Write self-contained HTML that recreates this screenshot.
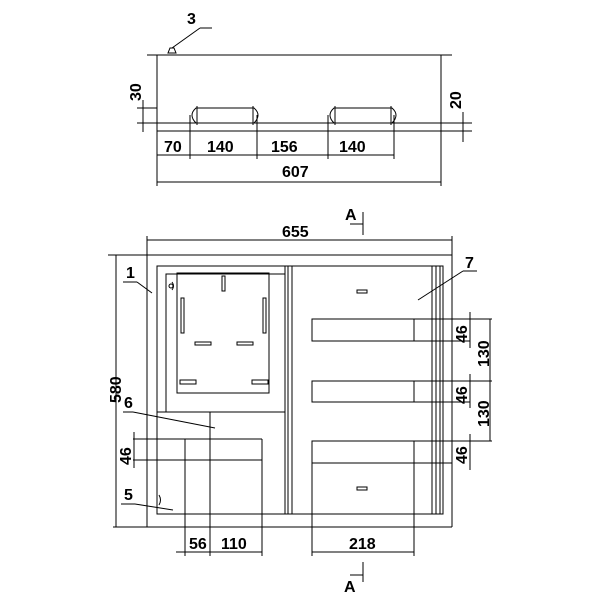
<!DOCTYPE html><html><head><style>body{margin:0;background:#fff}svg{display:block}text{font-family:"Liberation Sans",sans-serif;font-weight:bold;font-size:16px;fill:#000}</style></head><body>
<svg width="600" height="600" viewBox="0 0 600 600" xmlns="http://www.w3.org/2000/svg">
<g stroke="#000" stroke-width="1" fill="none">
<line x1="147" y1="55" x2="452" y2="55"/>
<line x1="157" y1="55" x2="157" y2="186"/>
<line x1="441" y1="55" x2="441" y2="186"/>
<line x1="157" y1="131" x2="472" y2="131"/>
<line x1="137" y1="123" x2="472" y2="123"/>
<line x1="137" y1="108" x2="157" y2="108"/>
<path d="M196 108 H254 Q262 115 254 123 H196 Q188 115 196 108 Z"/>
<path d="M334 108 H392 Q400 115 392 123 H334 Q326 115 334 108 Z"/>
<line x1="197" y1="106" x2="197" y2="125"/><line x1="253" y1="106" x2="253" y2="125"/>
<line x1="335" y1="106" x2="335" y2="125"/><line x1="391" y1="106" x2="391" y2="125"/>
<line x1="190" y1="115" x2="190" y2="159"/><line x1="257" y1="115" x2="257" y2="159"/>
<line x1="328" y1="115" x2="328" y2="159"/><line x1="394" y1="115" x2="394" y2="159"/>
<line x1="157" y1="155" x2="394" y2="155"/>
<line x1="157" y1="182" x2="441" y2="182"/>
<line x1="143" y1="100" x2="143" y2="132"/>
<line x1="463" y1="112" x2="463" y2="142"/>
<path d="M200 28 L172 48"/><line x1="200" y1="28" x2="212" y2="28"/>
<path d="M168 53 L176 53 L174 48 L170 48 Z"/>
<line x1="363" y1="212" x2="363" y2="235"/><line x1="350" y1="224" x2="363" y2="224"/>
<line x1="363" y1="562" x2="363" y2="582"/><line x1="350" y1="575" x2="363" y2="575"/>
<line x1="147" y1="236" x2="147" y2="527"/>
<line x1="452" y1="236" x2="452" y2="527"/>
<line x1="147" y1="240" x2="452" y2="240"/>
<line x1="108" y1="255" x2="452" y2="255"/>
<line x1="113" y1="527" x2="452" y2="527"/>
<line x1="116" y1="255" x2="116" y2="527"/>
<rect x="157" y="266" width="286" height="248"/>
<rect x="166" y="274" width="119" height="138"/>
<rect x="177" y="273" width="92" height="120"/>
<line x1="285" y1="266" x2="285" y2="514"/><line x1="288" y1="266" x2="288" y2="514"/><line x1="292" y1="266" x2="292" y2="514"/>
<line x1="432" y1="266" x2="432" y2="514"/><line x1="436" y1="266" x2="436" y2="514"/><line x1="440" y1="266" x2="440" y2="514"/>
<line x1="157" y1="412" x2="285" y2="412"/>
<rect x="222" y="276" width="3" height="15"/>
<rect x="181" y="298" width="3" height="35"/>
<rect x="263" y="298" width="3" height="35"/>
<rect x="195" y="342" width="16" height="3"/><rect x="237" y="342" width="16" height="3"/>
<rect x="180" y="380" width="16" height="4"/><rect x="252" y="380" width="16" height="4"/>
<circle cx="171" cy="286" r="2"/>
<rect x="312" y="319" width="102" height="22"/><line x1="414" y1="319" x2="492" y2="319"/><line x1="414" y1="341" x2="470" y2="341"/>
<rect x="312" y="381" width="102" height="21"/><line x1="414" y1="381" x2="492" y2="381"/><line x1="414" y1="402" x2="470" y2="402"/>
<rect x="312" y="441" width="102" height="73"/><line x1="312" y1="463" x2="452" y2="463"/><line x1="414" y1="441" x2="492" y2="441"/>
<rect x="357" y="290" width="10" height="3"/>
<rect x="357" y="487" width="10" height="3"/>
<line x1="312" y1="514" x2="312" y2="556"/><line x1="414" y1="514" x2="414" y2="556"/>
<line x1="312" y1="552" x2="414" y2="552"/>
<line x1="470" y1="312" x2="470" y2="348"/><line x1="470" y1="374" x2="470" y2="408"/><line x1="470" y1="434" x2="470" y2="470"/>
<line x1="490" y1="319" x2="490" y2="441"/>
<line x1="133" y1="439" x2="262" y2="439"/><line x1="133" y1="460" x2="262" y2="460"/>
<line x1="262" y1="439" x2="262" y2="556"/>
<line x1="185" y1="439" x2="185" y2="556"/>
<line x1="210" y1="412" x2="210" y2="556"/>
<line x1="176" y1="552" x2="262" y2="552"/>
<line x1="134" y1="432" x2="134" y2="468"/>
<path d="M159 495 q3 5 0 10"/><path d="M172 282 q3 4 0 8"/>
<line x1="123" y1="282" x2="137" y2="282"/><line x1="137" y1="282" x2="152" y2="293"/>
<line x1="123" y1="412" x2="133" y2="412"/><line x1="133" y1="412" x2="215" y2="428"/>
<line x1="121" y1="504" x2="135" y2="504"/><line x1="135" y1="504" x2="173" y2="510"/>
<line x1="463" y1="271" x2="477" y2="271"/><line x1="463" y1="271" x2="418" y2="300"/>
</g>
<g fill="#000">
<text x="187" y="24">3</text>
<text x="164" y="152">70</text><text x="207" y="152">140</text><text x="271" y="152">156</text><text x="339" y="152">140</text>
<text x="282" y="177">607</text>
<text x="282" y="237">655</text>
<text x="345" y="220">A</text><text x="344" y="592">A</text>
<text x="126" y="278">1</text><text x="124" y="408">6</text><text x="124" y="500">5</text><text x="465" y="268">7</text>
<text x="189" y="549">56</text><text x="221" y="549">110</text><text x="349" y="549">218</text>
<text transform="translate(141,101) rotate(-90)">30</text>
<text transform="translate(461,109) rotate(-90)">20</text>
<text transform="translate(121,403) rotate(-90)">580</text>
<text transform="translate(131,465) rotate(-90)">46</text>
<text transform="translate(467,343) rotate(-90)">46</text>
<text transform="translate(467,404) rotate(-90)">46</text>
<text transform="translate(467,464) rotate(-90)">46</text>
<text transform="translate(489,367) rotate(-90)">130</text>
<text transform="translate(489,427) rotate(-90)">130</text>
</g>
</svg></body></html>
